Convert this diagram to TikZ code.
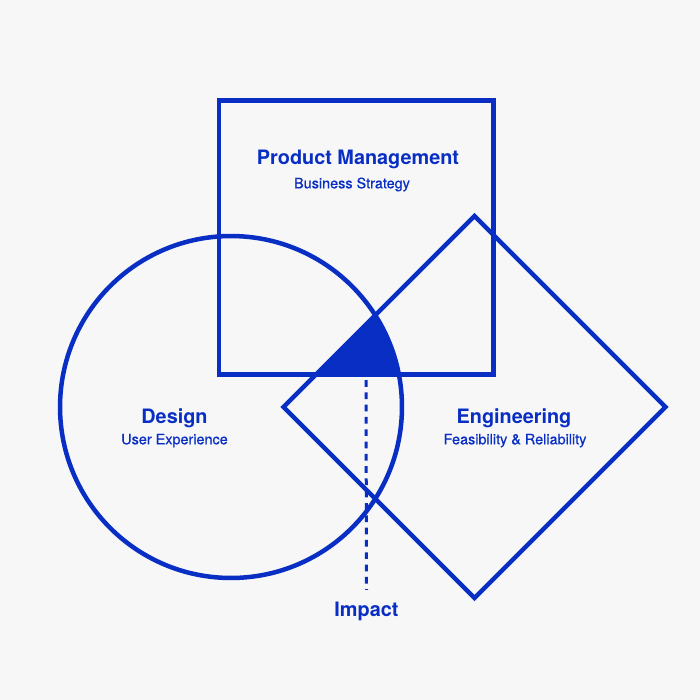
\documentclass[tikz,border=0pt]{standalone}
\usepackage{fontspec}
\setmainfont{TeX Gyre Heros}
\newfontfamily\subfont[FakeBold=0.5]{TeX Gyre Heros}
\definecolor{venn}{RGB}{8,46,196}
\definecolor{paper}{RGB}{247,247,248}
\tikzset{
  outline/.style={draw=venn, line width=0.09cm},
  heading/.style={text=venn, font=\bfseries\fontsize{11.3}{13}\selectfont, anchor=base, inner sep=0pt},
  subheading/.style={text=venn, font=\subfont\fontsize{8.2}{10}\selectfont, anchor=base, inner sep=0pt},
}
\begin{document}
\begin{tikzpicture}[x=0.02cm, y=-0.02cm]
  % Background
  \fill[paper] (0,0) rectangle (700,700);
  \useasboundingbox (0,0) rectangle (700,700);

  % Shared area of the three shapes
  \begin{scope}
    \clip (231,407) circle[radius=3.42cm];
    \clip (219,100.5) rectangle (493.5,374.5);
    \fill[venn] (474.5,216) -- (665.5,407) -- (474.5,598) -- (283.5,407) -- cycle;
  \end{scope}

  % Draw the shapes
  \draw[outline] (219,100.5) rectangle (493.5,374.5);
  \draw[outline] (231,407) circle[radius=3.42cm];
  \draw[outline] (474.5,216) -- (665.5,407) -- (474.5,598) -- (283.5,407) -- cycle;

  % Labels inside the shapes
  \node[heading] (pm) at (358,164) {Product Management};
  \node[subheading] (pmsub) at (352,188.3) {Business Strategy};
  \node[heading] (design) at (174.5,423.3) {Design};
  \node[subheading] (designsub) at (174.5,444.3) {User Experience};
  \node[heading] (eng) at (514,423.3) {Engineering};
  \node[subheading] (engsub) at (515,444.3) {Feasibility \& Reliability};

  % Dashed line down to the label
  \coordinate (core) at (366,374.5);
  \node[heading] (impact) at (366.5,616.7) {Impact};
  \draw[venn, line width=0.06cm, dash pattern=on 0.134cm off 0.112cm, dash phase=0.134cm] (core) -- ([yshift=0.24cm]impact.north);
\end{tikzpicture}
\end{document}
